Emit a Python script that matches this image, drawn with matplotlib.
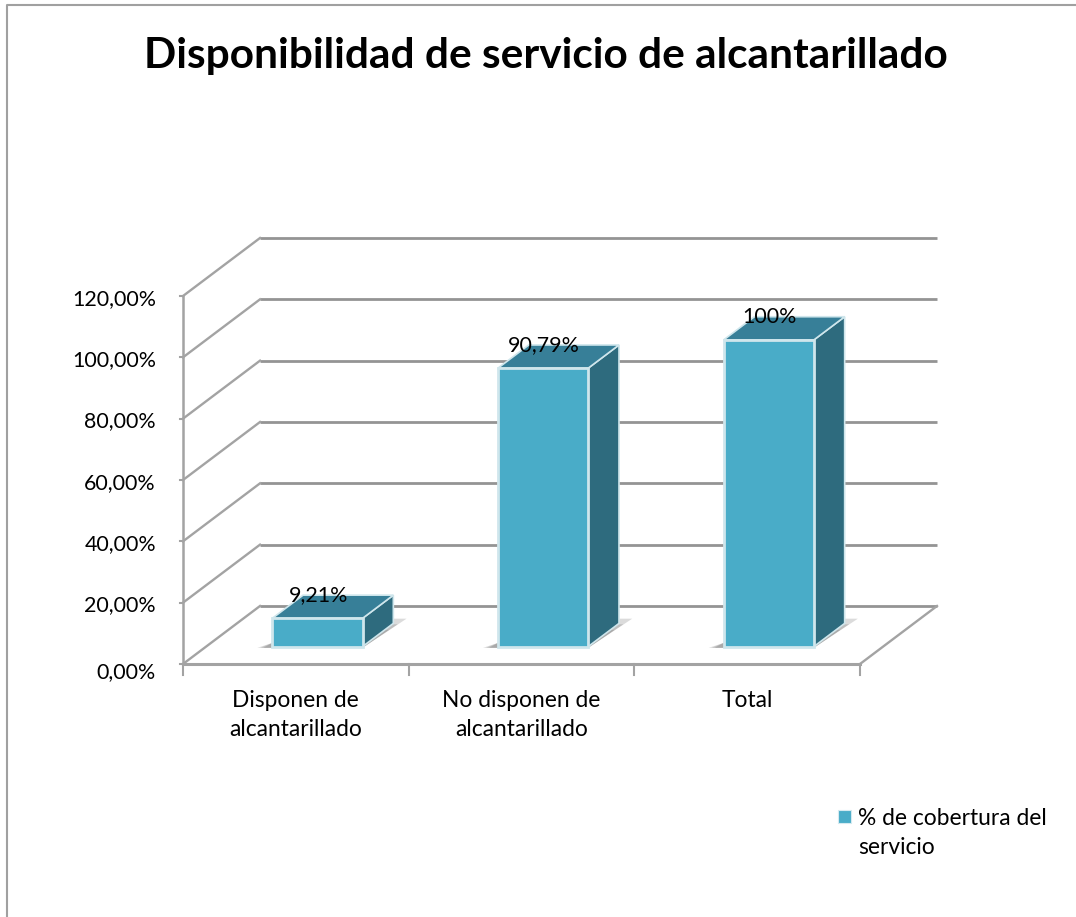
#!/usr/bin/env python

import matplotlib
matplotlib.use("agg")
import numpy as np
import matplotlib.pyplot as plt
from matplotlib.patches import Polygon, Rectangle

plt.rcParams["font.family"] = ["Lato", "DejaVu Sans"]

title = "Disponibilidad de servicio de alcantarillado"
categories = ["Disponen de\nalcantarillado", "No disponen de\nalcantarillado", "Total"]
values = [9.21, 90.79, 100.0]
value_labels = ["9,21%", "90,79%", "100%"]
y_ticks = [0, 20, 40, 60, 80, 100, 120]
y_labels = ["0,00%", "20,00%", "40,00%", "60,00%", "80,00%", "100,00%", "120,00%"]
legend_label = "% de cobertura del\nservicio"

W, H = 1076, 917
# depth of the 3d box, in data units
DX = 77 / (677 / 3)
DY = 58 / (368 / 120)

FRONT = "#49acc8"
TOP = "#377f98"
SIDE = "#2e6b7e"
EDGE = "#cfe6ec"
GRID = "#949494"
SOFT = "#a3a3a3"


def main():
    fig = plt.figure(figsize=(W / 100, H / 100), dpi=100)
    ax = fig.add_axes([183 / W, 1 - 664 / H, 677 / W, 368 / H])
    ax.set_xlim(0, 3)
    ax.set_ylim(0, 120)
    ax.axis("off")

    # outer frame of the pasted chart
    fig.add_artist(plt.Line2D([7 / W, 7 / W, 1], [0, 1 - 5 / H, 1 - 5 / H],
                              color="#a0a0a0", lw=1.5))

    # walls and gridlines
    for t in y_ticks:
        ax.plot([DX, 3 + DX], [t + DY, t + DY], color=GRID, lw=2.0, clip_on=False,
                solid_capstyle="butt", zorder=1)
        ax.plot([0, DX], [t, t + DY], color=SOFT, lw=1.7, clip_on=False, zorder=1)
    ax.plot([3, 3 + DX], [0, DY], color=SOFT, lw=1.7, clip_on=False, zorder=1)
    ax.plot([0, 3], [0, 0], color=SOFT, lw=2.2, clip_on=False, zorder=2)
    ax.plot([0, 0], [0, 120], color=SOFT, lw=1.8, clip_on=False, zorder=2)

    # axis ticks
    for t, lab in zip(y_ticks, y_labels):
        ax.plot([-0.012, 0], [t, t], color=SOFT, lw=1.5, clip_on=False)
        # the lowest label sits a little further down in the original
        shift = -1.9 if t == 0 else 0.0
        ax.text(-0.12, t - 0.9 + shift, lab, ha="right", va="center", fontsize=15.4,
                color="black", clip_on=False)
    for i in range(4):
        ax.plot([i, i], [0, -3.6], color=SOFT, lw=1.5, clip_on=False)
    for i, cat in enumerate(categories):
        ax.text(i + 0.5, -8.6, cat, ha="center", va="top", fontsize=16.4,
                linespacing=1.42, color="black", clip_on=False)

    # bars
    width = 0.4
    dx = 0.4 * DX
    dy = 0.4 * DY
    for i, (v, lab) in enumerate(zip(values, value_labels)):
        x0 = i + 0.3 + 0.28 * DX
        x1 = x0 + width
        y0 = 0.3 * DY
        y1 = y0 + v
        # soft shadow on the floor, darker towards the bar
        for grow, alpha in [(1.0, 0.3), (0.8, 0.35), (0.6, 0.4)]:
            shadow = Polygon([(x0 - 0.066 * grow, y0 - 0.4), (x1, y0 - 0.4),
                              (x1 + 0.195 * grow, y0 + 9.1 * grow), (x1, y0 + 9.1 * grow),
                              (x0, y0 + 1.2)],
                             fc="#8a8a8a", ec="none", alpha=alpha, zorder=3, clip_on=False)
            ax.add_patch(shadow)
        side = Polygon([(x1, y0), (x1 + dx, y0 + dy), (x1 + dx, y1 + dy), (x1, y1)],
                       fc=SIDE, ec=EDGE, lw=1.2, zorder=4, clip_on=False)
        top = Polygon([(x0, y1), (x1, y1), (x1 + dx, y1 + dy), (x0 + dx, y1 + dy)],
                      fc=TOP, ec=EDGE, lw=1.2, zorder=4, clip_on=False)
        front = Rectangle((x0, y0), width, v, fc=FRONT, ec=EDGE, lw=2.0, zorder=5,
                          clip_on=False)
        ax.add_patch(side)
        ax.add_patch(top)
        ax.add_patch(front)
        ax.text(x0 + width / 2 + 0.005, y1 + 7.6, lab, ha="center", va="center",
                fontsize=15.4, color="black", zorder=6, clip_on=False)

    fig.text(546 / W, 1 - 56 / H, title, ha="center", va="center", fontsize=30.5,
             fontweight="bold", color="black")

    # legend
    fig.add_artist(Rectangle((838 / W, 1 - 823 / H), 13 / W, 13 / H, fc=FRONT,
                             ec="#d5eaf0", lw=0.8, transform=fig.transFigure))
    fig.text(858 / W, 1 - 833 / H, legend_label, ha="left", va="center", fontsize=16.4,
             linespacing=1.42, color="black")

    fig.savefig("out.png", dpi=100)


if __name__ == "__main__":
    main()
